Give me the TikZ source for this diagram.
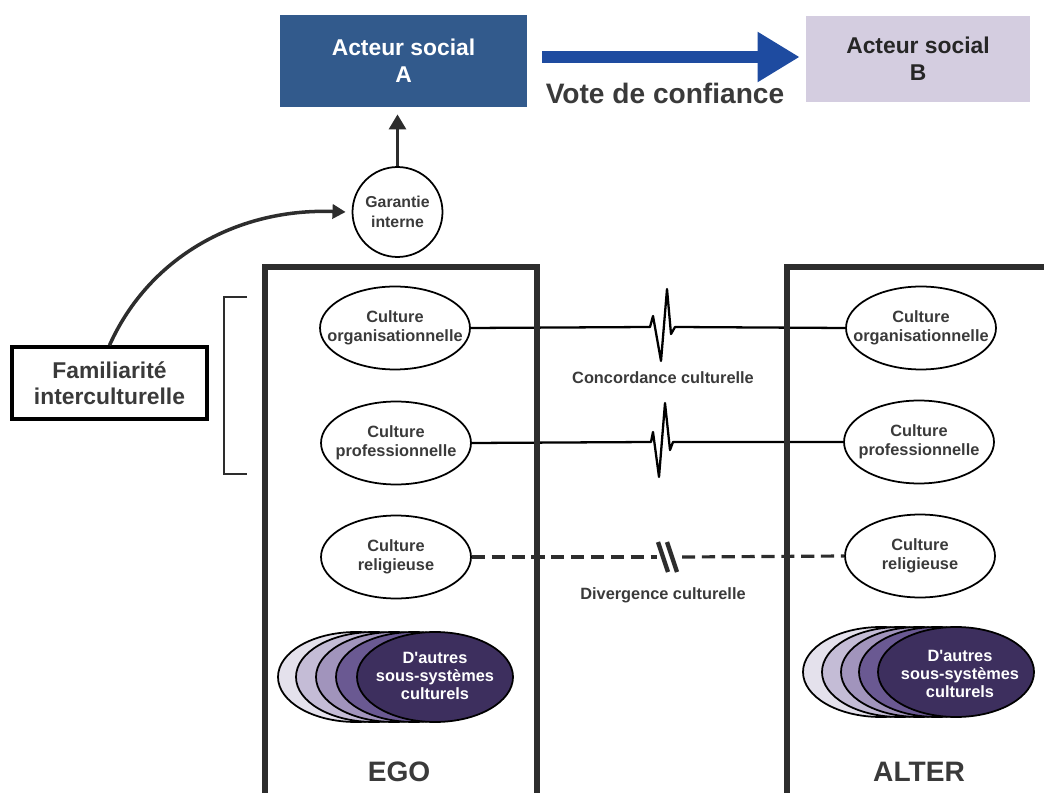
\documentclass[tikz,border=0pt]{standalone}
\usepackage{fontspec}
\setmainfont{Liberation Sans}
\usetikzlibrary{shapes.geometric,arrows.meta}

\definecolor{boxblue}{RGB}{50,90,140}
\definecolor{arrowblue}{RGB}{30,75,160}
\definecolor{boxlilac}{RGB}{212,205,224}
\definecolor{txtgrey}{RGB}{58,58,58}
\definecolor{linegrey}{RGB}{45,45,45}
\definecolor{lilacA}{RGB}{228,225,236}
\definecolor{lilacB}{RGB}{196,188,214}
\definecolor{lilacC}{RGB}{161,148,188}
\definecolor{lilacD}{RGB}{106,89,146}
\definecolor{lilacE}{RGB}{61,47,94}

\tikzset{
  culture/.style={ellipse, draw, line width=1pt, minimum width=3.0cm, minimum height=1.66cm, inner sep=0pt},
  culttext/.style={align=center, text=txtgrey, font=\fontsize{9.3}{10.8}\selectfont\bfseries},
  stacktext/.style={align=center, text=white, font=\fontsize{9.3}{10.5}\selectfont\bfseries},
  wall/.style={line width=3.4pt, draw=linegrey},
  pile/.style={line width=1pt, draw=black},
  bigtitle/.style={text=txtgrey, font=\fontsize{16}{18}\selectfont\bfseries},
}

\begin{document}
\begin{tikzpicture}[x=0.02cm, y=-0.02cm]
    \useasboundingbox (0,0) rectangle (1044,793);

    % Social actors at the top
    \node[fill=boxblue, minimum width=4.94cm, minimum height=1.84cm, align=center, text=white,
          font=\fontsize{13}{15.3}\selectfont\bfseries] (acteurA) at (403.5,61) {Acteur social\\A};
    \node[fill=boxlilac, minimum width=4.48cm, minimum height=1.72cm, align=center, text=black!85,
          font=\fontsize{13}{15.3}\selectfont\bfseries] (acteurB) at (918,59) {Acteur social\\B};
    \draw[arrowblue, line width=6.5pt, -{Triangle[length=24pt,width=27pt]}]
        ([shift={(15,-4)}]acteurA.east) -- ([shift={(-6,-4)}]acteurA.east -| acteurB.west);
    \node[text=txtgrey, font=\fontsize{16}{18}\selectfont\bfseries] (vote) at (665,93) {Vote de confiance};

    % Internal guarantee and familiarity
    \node[circle, draw, line width=1pt, minimum size=1.8cm, inner sep=0pt, align=center, text=txtgrey,
          font=\fontsize{9}{11.3}\selectfont\bfseries] (garant) at (397.5,212) {Garantie\\interne};
    \draw[linegrey, line width=2pt, shorten >=4pt, -{Triangle[length=8.5pt,width=9.5pt]}]
        (garant.north) -- (garant.north |- acteurA.south);
    \node[draw, line width=2pt, minimum width=3.9cm, minimum height=1.44cm, align=center, text=txtgrey,
          font=\fontsize{13}{14.7}\selectfont\bfseries] (famil) at (109.5,383) {Familiarité\\interculturelle};
    \draw[linegrey, line width=2pt, -{Triangle[length=7.5pt,width=8pt]}]
        (famil.north) .. controls (150,255) and (240,208) .. ([xshift=-3.4pt]garant.west);
    \draw[linegrey, line width=1.4pt] (247,297) -- (224,297) -- (224,474) -- (247,474);

    % Cultures of ego
    \node[culture, label={[culttext]center:Culture\\organisationnelle}] (egoorg) at (395,328) {};
    \node[culture, label={[culttext]center:Culture\\professionnelle}] (egopro) at (396,443) {};
    \node[culture, label={[culttext]center:Culture\\religieuse}] (egorel) at (396,557) {};

    % Cultures of alter
    \node[culture, label={[culttext]center:Culture\\organisationnelle}] (altorg) at (921,328) {};
    \node[culture, label={[culttext]center:Culture\\professionnelle}] (altpro) at (919,442) {};
    \node[culture, label={[culttext]center:Culture\\religieuse}] (altrel) at (920,556) {};

    % Concordance and divergence
    \draw[line width=1.3pt, line join=round] (egoorg.east) -- (650,327) -- (653,316) -- (661,361)
        -- (667,289) -- (671,334) -- (675,327) -- (altorg.west);
    \draw[line width=1.3pt, line join=round] (egopro.east) -- (651,442) -- (653,432) -- (659,477)
        -- (665,403) -- (670,450) -- (673,442) -- (altpro.west);
    \node[culttext] (concord) at (663,378) {Concordance culturelle};
    \coordinate (breakL) at (657,557);
    \coordinate (breakR) at (682,557);
    \draw[linegrey, line width=1.8pt, dash pattern=on 7.5pt off 3.8pt] (egorel.east) -- (breakL);
    \draw[linegrey, line width=1.8pt, dash pattern=on 7.5pt off 3.8pt] (breakR) -- (altrel.west);
    \draw[linegrey, line width=2.5pt] (658,542) -- (668,572);
    \draw[linegrey, line width=2.5pt] (667,542) -- (677,572);
    \node[culttext] (diverg) at (663,595) {Divergence culturelle};

    % Other cultural subsystems
    \draw[pile, fill=lilacA] (356,677) ellipse (78 and 45);
    \draw[pile, fill=lilacB] (374,677) ellipse (78 and 45);
    \draw[pile, fill=lilacC] (394,677) ellipse (78 and 45);
    \draw[pile, fill=lilacD] (414,677) ellipse (78 and 45);
    \draw[pile, fill=lilacE] (435,677) ellipse (78 and 45);
    \node[stacktext] (egoautres) at (435,676) {D\textquotesingle autres\\sous-systèmes\\culturels};
    \draw[pile, fill=lilacA] (881,672) ellipse (78 and 45);
    \draw[pile, fill=lilacB] (900,672) ellipse (78 and 45);
    \draw[pile, fill=lilacC] (919,672) ellipse (78 and 45);
    \draw[pile, fill=lilacD] (937,672) ellipse (78 and 45);
    \draw[pile, fill=lilacE] (956,672) ellipse (78 and 45);
    \node[stacktext] (altautres) at (960,674) {D\textquotesingle autres\\sous-systèmes\\culturels};

    % Ego and alter frames
    \draw[wall] (265,800) -- (265,267) -- (537,267) -- (537,800);
    \draw[wall] (787,800) -- (787,267) -- (1050,267);
    \node[bigtitle] (ego) at (399,772) {EGO};
    \node[bigtitle] (alter) at (919,772) {ALTER};
\end{tikzpicture}
\end{document}
